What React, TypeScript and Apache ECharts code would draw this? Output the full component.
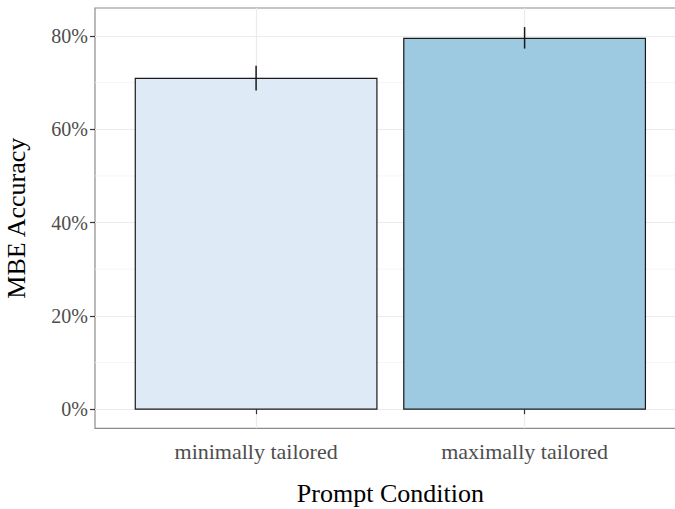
import React, { useEffect, useRef } from "react";
import * as echarts from "echarts";

const categories = ["minimally tailored", "maximally tailored"];
const accuracy = [70.9, 79.5];
const errLow = [68.3, 77.3];
const errHigh = [73.6, 81.9];
const yTicks = [0, 20, 40, 60, 80];
const yMinorTicks = [10, 30, 50, 70];
const barColors = ["#deebf7", "#9ecae1"];

const FONT = "Liberation Serif";
const X_MIN = 0.4;
const X_MAX = 2.6;

export default function App() {
  const ref = useRef<HTMLDivElement>(null);
  useEffect(() => {
    if (!ref.current) return;
    const chart = echarts.init(ref.current, undefined, { renderer: "svg" });
    const xPos = categories.map((_, i) => i + 1);
    const option: any = {
      animation: false,
      backgroundColor: "#ffffff",
      grid: {
        left: 95,
        top: 8,
        width: 590.7,
        height: 420.3,
        containLabel: false,
        outerBoundsMode: "none",
        show: true,
        borderColor: "#8c8c8c",
        borderWidth: 1.2,
        backgroundColor: "#ffffff",
      },
      xAxis: {
        type: "value",
        min: X_MIN,
        max: X_MAX,
        name: "Prompt Condition",
        nameLocation: "middle",
        nameGap: 52,
        nameTextStyle: { fontFamily: FONT, fontSize: 26, color: "#000000" },
        axisLine: { show: false },
        axisTick: { show: true, length: 5, lineStyle: { color: "#333333", width: 1.2 }, customValues: xPos },
        axisLabel: {
          customValues: xPos,
          margin: 12,
          fontFamily: FONT,
          fontSize: 22,
          color: "#4d4d4d",
          formatter: (v: number) => categories[Math.round(v) - 1] ?? "",
        },
        splitLine: { show: true, lineStyle: { color: "#ebebeb", width: 1.2 } },
      },
      yAxis: {
        type: "value",
        min: -4.1,
        max: 86.0,
        name: "MBE Accuracy",
        nameLocation: "middle",
        nameRotate: 90,
        nameGap: 66,
        nameTextStyle: { fontFamily: FONT, fontSize: 26, color: "#000000" },
        axisLine: { show: false },
        axisTick: { show: true, length: 5, lineStyle: { color: "#333333", width: 1.2 }, customValues: yTicks },
        axisLabel: {
          customValues: yTicks,
          margin: 7,
          fontFamily: FONT,
          fontSize: 20,
          color: "#4d4d4d",
          formatter: (v: number) => `${v}%`,
        },
        splitLine: { show: true, lineStyle: { color: "#ebebeb", width: 1.2 } },
      },
      series: [
        {
          type: "custom",
          z: 1,
          silent: true,
          data: yMinorTicks.map((v) => [v]),
          encode: { y: 0 },
          renderItem: (params: any, api: any) => {
            const v = api.value(0);
            const a = api.coord([X_MIN, v]);
            const b = api.coord([X_MAX, v]);
            return {
              type: "line",
              shape: { x1: a[0], y1: a[1], x2: b[0], y2: b[1] },
              style: { stroke: "#f2f2f2", lineWidth: 0.8 },
            };
          },
        },
        {
          type: "custom",
          z: 3,
          data: categories.map((_, i) => [i + 1, accuracy[i]]),
          encode: { x: 0, y: 1 },
          renderItem: (params: any, api: any) => {
            const x = api.value(0);
            const y = api.value(1);
            const p0 = api.coord([x - 0.45, y]);
            const p1 = api.coord([x + 0.45, 0]);
            return {
              type: "rect",
              shape: { x: p0[0], y: p0[1], width: p1[0] - p0[0], height: p1[1] - p0[1] },
              style: { fill: barColors[params.dataIndex], stroke: "#1a1a1a", lineWidth: 1.2 },
            };
          },
        },
        {
          type: "custom",
          z: 4,
          data: categories.map((_, i) => [i + 1, errLow[i], errHigh[i]]),
          encode: { x: 0, y: [1, 2] },
          renderItem: (params: any, api: any) => {
            const x = api.value(0);
            const a = api.coord([x, api.value(1)]);
            const b = api.coord([x, api.value(2)]);
            return {
              type: "line",
              shape: { x1: a[0], y1: a[1], x2: b[0], y2: b[1] },
              style: { stroke: "#1a1a1a", lineWidth: 1.5 },
            };
          },
        },
      ],
    };
    chart.setOption(option);
    return () => chart.dispose();
  }, []);
  return (
    <div
      ref={ref}
      style={{ position: "fixed", left: 0, top: 0, width: 675, height: 509, background: "#fff" }}
    />
  );
}
